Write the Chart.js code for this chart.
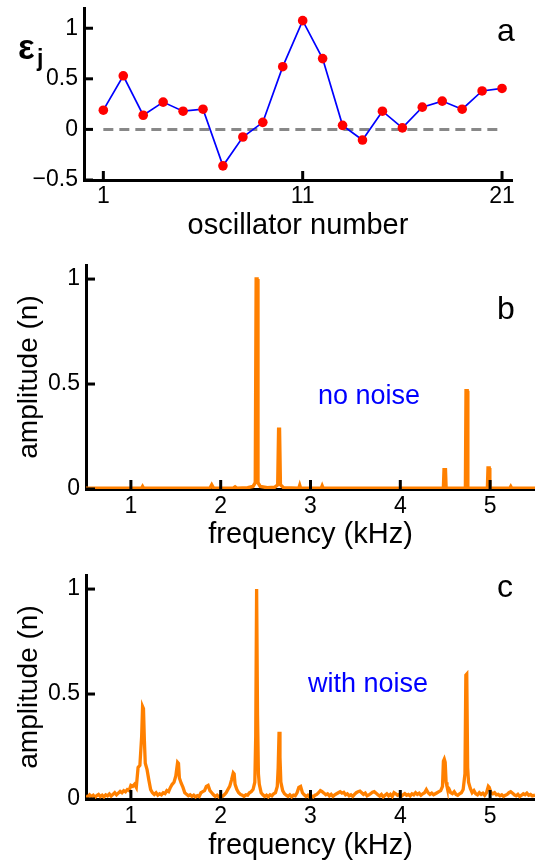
<!DOCTYPE html>
<html>
<head>
<meta charset="utf-8">
<script src="https://cdn.jsdelivr.net/npm/chart.js@4.4.1/dist/chart.umd.min.js"></script>
<style>
  body { margin: 0; background: #fff; width: 535px; height: 865px; overflow: hidden; position: relative; }
  canvas { position: absolute; left: 0; }
</style>
</head>
<body>
<canvas id="chartA" width="535" height="245" style="top:0px"></canvas>
<canvas id="chartB" width="535" height="310" style="top:250px"></canvas>
<canvas id="chartC" width="535" height="305" style="top:560px"></canvas>
<script>
// panel a : coupling per oscillator
const oscNumber = [1, 2, 3, 4, 5, 6, 7, 8, 9, 10, 11, 12, 13, 14, 15, 16, 17, 18, 19, 20, 21];
const epsilon = [0.19, 0.53, 0.14, 0.27, 0.18, 0.20, -0.36, -0.075, 0.07, 0.62, 1.075,
                 0.70, 0.04, -0.105, 0.18, 0.015, 0.22, 0.28, 0.20, 0.38, 0.405];
const zeroLineX = [1, 21];
const xTicksA = [1, 11, 21];
const yTicksA = [-0.5, 0, 0.5, 1];

// panel b : spectrum, no noise
const freqB = [0.50, 1.00, 1.12, 1.13, 1.14, 1.88, 1.90, 1.92, 2.14, 2.16, 2.18, 2.30, 2.36, 2.385, 2.395,
               2.405, 2.415, 2.44, 2.52, 2.60, 2.635, 2.645, 2.655, 2.665, 2.70, 2.87, 2.88, 2.89, 3.12,
               3.13, 3.14, 4.40, 4.48, 4.487, 4.503, 4.51, 4.725, 4.732, 4.745, 4.752, 4.97, 4.977, 4.99,
               4.997, 5.22, 5.23, 5.24, 5.50];
const ampB = [0.004, 0.004, 0.004, 0.012, 0.004, 0.004, 0.020, 0.004, 0.004, 0.010, 0.004, 0.006, 0.012, 0.03, 1.0,
              1.0, 0.03, 0.012, 0.006, 0.008, 0.02, 0.285, 0.285, 0.02, 0.006, 0.004, 0.018, 0.004, 0.004,
              0.015, 0.004, 0.004, 0.004, 0.092, 0.092, 0.004, 0.004, 0.468, 0.468, 0.004, 0.004, 0.10, 0.10,
              0.004, 0.004, 0.012, 0.004, 0.004];

// panel c : spectrum, with noise
const freqC = [
  0.50, 0.52, 0.54, 0.56, 0.58, 0.60, 0.62, 0.64, 0.66, 0.68, 0.70, 0.72, 0.74, 0.76, 0.78, 0.80,
  0.82, 0.84, 0.86, 0.88, 0.90, 0.92, 0.94, 0.96, 0.98, 1.00, 1.02, 1.04, 1.06, 1.08, 1.10, 1.12,
  1.13, 1.14, 1.15, 1.16, 1.18, 1.20, 1.22, 1.24, 1.26, 1.28, 1.30, 1.32, 1.34, 1.36, 1.38, 1.40,
  1.42, 1.44, 1.46, 1.48, 1.50, 1.52, 1.53, 1.54, 1.56, 1.58, 1.60, 1.62, 1.64, 1.66, 1.68, 1.70,
  1.72, 1.74, 1.76, 1.78, 1.80, 1.82, 1.84, 1.86, 1.88, 1.90, 1.92, 1.94, 1.96, 1.98, 2.00, 2.02,
  2.04, 2.06, 2.08, 2.10, 2.12, 2.14, 2.15, 2.16, 2.18, 2.20, 2.22, 2.24, 2.26, 2.28, 2.30, 2.32,
  2.34, 2.36, 2.38, 2.39, 2.40, 2.41, 2.42, 2.43, 2.45, 2.47, 2.49, 2.51, 2.53, 2.55, 2.57, 2.59,
  2.61, 2.63, 2.64, 2.65, 2.66, 2.67, 2.69, 2.71, 2.73, 2.75, 2.77, 2.79, 2.81, 2.83, 2.85, 2.87,
  2.89, 2.91, 2.93, 2.95, 2.97, 2.99, 3.01, 3.03, 3.05, 3.07, 3.09, 3.11, 3.13, 3.15, 3.17, 3.19,
  3.21, 3.23, 3.25, 3.27, 3.29, 3.31, 3.33, 3.35, 3.37, 3.39, 3.41, 3.43, 3.45, 3.47, 3.49, 3.51,
  3.53, 3.55, 3.57, 3.59, 3.61, 3.63, 3.65, 3.67, 3.69, 3.71, 3.73, 3.75, 3.77, 3.79, 3.81, 3.83,
  3.85, 3.87, 3.89, 3.91, 3.93, 3.95, 3.97, 3.99, 4.01, 4.03, 4.05, 4.07, 4.09, 4.11, 4.13, 4.15,
  4.17, 4.19, 4.21, 4.23, 4.25, 4.27, 4.29, 4.31, 4.33, 4.35, 4.37, 4.39, 4.41, 4.43, 4.45, 4.47,
  4.48, 4.49, 4.50, 4.51, 4.52, 4.54, 4.56, 4.58, 4.60, 4.62, 4.64, 4.66, 4.68, 4.70, 4.72, 4.73,
  4.74, 4.75, 4.76, 4.78, 4.80, 4.82, 4.84, 4.86, 4.88, 4.90, 4.92, 4.94, 4.96, 4.98, 4.99, 5.01,
  5.03, 5.05, 5.07, 5.09, 5.11, 5.13, 5.15, 5.17, 5.19, 5.21, 5.23, 5.25, 5.27, 5.29, 5.31, 5.33,
  5.35, 5.37, 5.39, 5.41, 5.43, 5.45, 5.47, 5.50
];
const ampC = [
  0.015, 0.010, 0.020, 0.012, 0.018, 0.008, 0.016, 0.022, 0.012, 0.018, 0.010, 0.020, 0.015, 0.024, 0.014, 0.022,
  0.030, 0.020, 0.028, 0.036, 0.030, 0.040, 0.034, 0.045, 0.040, 0.065, 0.060, 0.070, 0.055, 0.150, 0.160, 0.300,
  0.440, 0.430, 0.280, 0.170, 0.140, 0.090, 0.045, 0.030, 0.022, 0.030, 0.018, 0.025, 0.020, 0.030, 0.026, 0.040,
  0.035, 0.055, 0.070, 0.080, 0.110, 0.175, 0.170, 0.100, 0.075, 0.055, 0.030, 0.022, 0.015, 0.020, 0.012, 0.018,
  0.010, 0.016, 0.012, 0.030, 0.035, 0.040, 0.060, 0.065, 0.040, 0.030, 0.020, 0.012, 0.018, 0.010, 0.015, 0.012,
  0.020, 0.030, 0.045, 0.060, 0.090, 0.125, 0.120, 0.070, 0.045, 0.030, 0.022, 0.018, 0.012, 0.020, 0.018, 0.030,
  0.035, 0.045, 0.080, 0.300, 1.000, 0.400, 0.120, 0.070, 0.030, 0.020, 0.012, 0.018, 0.010, 0.020, 0.015, 0.025,
  0.030, 0.060, 0.150, 0.320, 0.200, 0.080, 0.040, 0.025, 0.018, 0.012, 0.020, 0.010, 0.018, 0.015, 0.030, 0.055,
  0.060, 0.030, 0.020, 0.012, 0.018, 0.008, 0.015, 0.010, 0.018, 0.022, 0.030, 0.040, 0.035, 0.028, 0.020, 0.025,
  0.015, 0.022, 0.012, 0.020, 0.025, 0.030, 0.035, 0.028, 0.032, 0.020, 0.025, 0.015, 0.020, 0.012, 0.022, 0.030,
  0.035, 0.038, 0.030, 0.022, 0.028, 0.015, 0.020, 0.025, 0.032, 0.035, 0.028, 0.020, 0.014, 0.022, 0.010, 0.018,
  0.025, 0.015, 0.022, 0.012, 0.030, 0.025, 0.018, 0.022, 0.012, 0.020, 0.026, 0.018, 0.022, 0.015, 0.025, 0.020,
  0.030, 0.022, 0.028, 0.018, 0.025, 0.030, 0.045, 0.030, 0.022, 0.028, 0.020, 0.025, 0.030, 0.035, 0.040, 0.060,
  0.180, 0.190, 0.175, 0.080, 0.060, 0.050, 0.030, 0.025, 0.035, 0.022, 0.018, 0.025, 0.030, 0.045, 0.120, 0.590,
  0.595, 0.150, 0.080, 0.050, 0.030, 0.040, 0.025, 0.020, 0.030, 0.022, 0.028, 0.018, 0.030, 0.060, 0.055, 0.030,
  0.025, 0.030, 0.020, 0.022, 0.015, 0.020, 0.012, 0.018, 0.022, 0.030, 0.035, 0.028, 0.020, 0.015, 0.022, 0.012,
  0.018, 0.025, 0.020, 0.028, 0.018, 0.022, 0.015, 0.018
];
const freqTicks = [1, 2, 3, 4, 5];
const ampTicks = [0, 0.5, 1];

Chart.defaults.font.family = "'Liberation Sans', Arial, Helvetica, sans-serif";
Chart.defaults.color = "#000";

const ORANGE = "#ff8000";
const FONT = "'Liberation Sans', Arial";

// tick marks drawn inward, on top of the axes
const inwardTicks = {
  id: "inwardTicks",
  afterDraw(chart) {
    const ctx = chart.ctx;
    const area = chart.chartArea;
    ctx.save();
    ctx.strokeStyle = "#000";
    ctx.lineWidth = 3;
    const xs = chart.scales.x, ys = chart.scales.y;
    xs.ticks.forEach(t => {
      const px = xs.getPixelForValue(t.value);
      ctx.beginPath();
      ctx.moveTo(px, area.bottom);
      ctx.lineTo(px, area.bottom - 9);
      ctx.stroke();
    });
    ys.ticks.forEach(t => {
      const py = ys.getPixelForValue(t.value);
      ctx.beginPath();
      ctx.moveTo(area.left, py);
      ctx.lineTo(area.left + 9, py);
      ctx.stroke();
    });
    ctx.restore();
  }
};

// free text: panel letters, annotations
const panelText = {
  id: "panelText",
  afterDraw(chart, args, opts) {
    const ctx = chart.ctx;
    (opts.items || []).forEach(it => {
      ctx.save();
      ctx.font = it.font;
      ctx.fillStyle = it.color || "#000";
      ctx.textAlign = "left";
      ctx.textBaseline = "alphabetic";
      ctx.fillText(it.text, it.x, it.y);
      ctx.restore();
    });
  }
};

function fmt(v) {
  if (v < 0) return "\u2212" + Math.abs(v);
  return String(v);
}

// no extra room for half tick labels at the ends
function fixX(h) {
  return s => { s.height = h; s.paddingLeft = 0; s.paddingRight = 0; };
}
function fixY(w) {
  return s => { s.width = w; s.paddingTop = 0; s.paddingBottom = 0; };
}

// ---------- panel a ----------
new Chart(document.getElementById("chartA"), {
  type: "line",
  data: {
    datasets: [{
      data: oscNumber.map((n, i) => ({ x: n, y: epsilon[i] })),
      borderColor: "#0000ff",
      borderWidth: 1.7,
      pointRadius: 4.8,
      pointBackgroundColor: "#ff0000",
      pointBorderWidth: 0,
      tension: 0,
      order: 1
    }, {
      data: zeroLineX.map(x => ({ x: x, y: 0 })),
      borderColor: "#888888",
      borderWidth: 3,
      borderDash: [10, 6],
      pointRadius: 0,
      order: 2
    }]
  },
  options: {
    responsive: false,
    animation: false,
    layout: { padding: { top: 8, right: 23, left: 0, bottom: 0 } },
    plugins: {
      legend: { display: false },
      tooltip: { enabled: false },
      panelText: {
        items: [
          { text: "a", x: 497, y: 41, font: "32px " + FONT },
          { text: "\u03b5", x: 18, y: 59, font: "bold 35px " + FONT },
          { text: "j", x: 37, y: 66, font: "bold 23px " + FONT }
        ]
      }
    },
    scales: {
      x: {
        type: "linear",
        min: 0.03,
        max: 21.5,
        afterFit: fixX(65),
        afterBuildTicks: s => { s.ticks = xTicksA.map(v => ({ value: v })); },
        grid: { display: false, drawTicks: false },
        border: { color: "#000", width: 3 },
        ticks: { font: { size: 23 }, padding: 3, maxRotation: 0, callback: v => fmt(v) },
        title: { display: true, text: "oscillator number", font: { size: 29 }, padding: { top: 0, bottom: 2 } }
      },
      y: {
        min: -0.5,
        max: 1.2,
        afterFit: fixY(84),
        afterBuildTicks: s => { s.ticks = yTicksA.map(v => ({ value: v })); },
        grid: { display: false, drawTicks: false },
        border: { color: "#000", width: 3 },
        ticks: { font: { size: 23 }, padding: 6, callback: v => fmt(v) }
      }
    }
  },
  plugins: [inwardTicks, panelText]
});

// ---------- panels b, c ----------
function spectrum(id, freqs, amps, h, titleBottom, lineW, texts) {
  return new Chart(document.getElementById(id), {
    type: "line",
    data: {
      datasets: [{
        data: freqs.map((f, i) => ({ x: f, y: amps[i] })),
        borderColor: ORANGE,
        borderWidth: lineW,
        pointRadius: 0,
        tension: 0
      }]
    },
    options: {
      responsive: false,
      animation: false,
      layout: { padding: { top: 15, right: 0, left: 0, bottom: 0 } },
      plugins: {
        legend: { display: false },
        tooltip: { enabled: false },
        panelText: { items: texts }
      },
      scales: {
        x: {
          type: "linear",
          min: 0.5,
          max: 5.5,
          afterFit: fixX(h - 239),
          afterBuildTicks: s => { s.ticks = freqTicks.map(v => ({ value: v })); },
          grid: { display: false, drawTicks: false },
          border: { color: "#000", width: 3 },
          ticks: { font: { size: 23 }, padding: 4, maxRotation: 0 },
          title: { display: true, text: "frequency (kHz)", font: { size: 29 }, padding: { top: 0, bottom: titleBottom } }
        },
        y: {
          min: 0,
          max: 1.067,
          afterFit: fixY(86),
          afterBuildTicks: s => { s.ticks = ampTicks.map(v => ({ value: v })); },
          grid: { display: false, drawTicks: false },
          border: { color: "#000", width: 3 },
          ticks: { font: { size: 23 }, padding: 6, callback: v => fmt(v) },
          title: { display: true, text: "amplitude (n)", font: { size: 28 }, padding: { top: 12, bottom: 0 } }
        }
      }
    },
    plugins: [inwardTicks, panelText]
  });
}

spectrum("chartB", freqB, ampB, 310, 8, 3.4, [
  { text: "b", x: 497, y: 69, font: "32px " + FONT },
  { text: "no noise", x: 318, y: 154, font: "27px " + FONT, color: "#0000ff" }
]);
spectrum("chartC", freqC, ampC, 305, 2, 3.3, [
  { text: "c", x: 497, y: 37, font: "32px " + FONT },
  { text: "with noise", x: 308, y: 132, font: "27px " + FONT, color: "#0000ff" }
]);
</script>
</body>
</html>
